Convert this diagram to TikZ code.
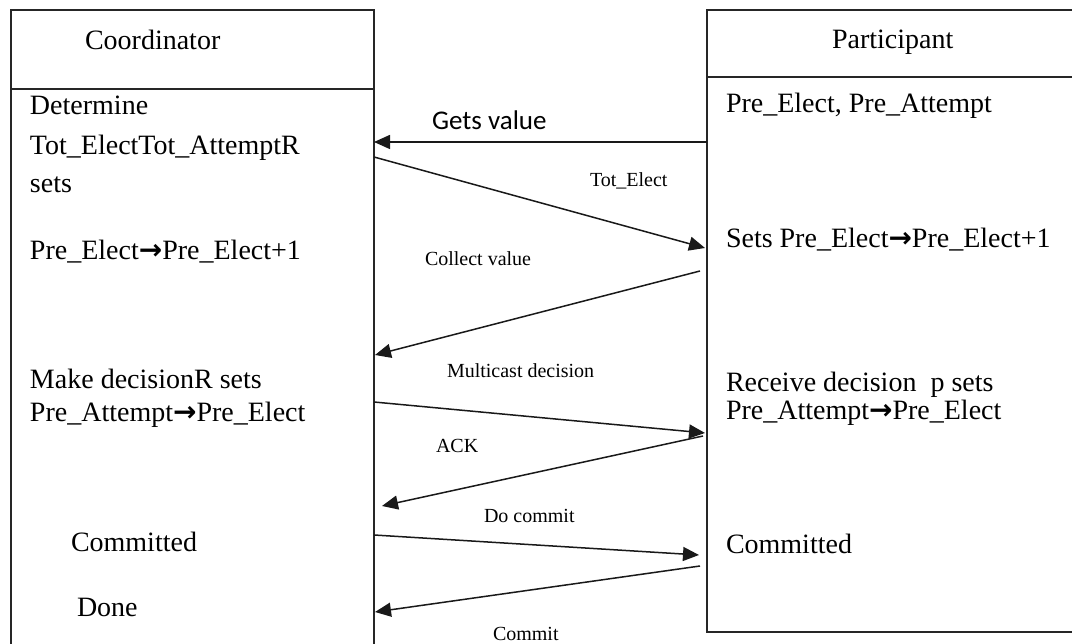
\documentclass[tikz,border=0pt]{standalone}
\usepackage{fontspec}
\setmainfont{Liberation Serif}
\newfontfamily\labelsans{Carlito}
\newfontfamily\arrowglyph{DejaVu Sans}
\usetikzlibrary{arrows.meta}
\newcommand{\rarr}{{\arrowglyph\bfseries →}}
\begin{document}
\begin{tikzpicture}[x=1pt,y=-1pt,
  every node/.style={inner sep=0pt,outer sep=0pt},
  lifebox/.style={line width=1.5pt,draw=black!85},
  msg/.style={line width=1.5pt,draw=black!90,-{Triangle[length=16pt,width=14pt]}},
  lifetext/.style={anchor=base west,font=\fontsize{28}{34}\selectfont},
  msglabel/.style={anchor=base west,font=\fontsize{20}{24}\selectfont},
  sanslabel/.style={anchor=base west,font=\labelsans\fontsize{27}{32}\selectfont}]
\useasboundingbox (0,0) rectangle (1072,644);
\fill[white] (0,0) rectangle (1072,644);

% coordinator lifeline box (open at the bottom)
\draw[lifebox] (11,644) -- (11,10) -- (374,10) -- (374,644);
\draw[lifebox] (11,89) -- (374,89);
% participant lifeline box (runs past the right edge)
\draw[lifebox] (1075,10) -- (707,10) -- (707,632) -- (1075,632);
\draw[lifebox] (707,77) -- (1075,77);

% headings
\node[lifetext] (coordT) at (85,50) {Coordinator};
\node[lifetext] (partT) at (832,49) {Participant};

% coordinator steps
\node[lifetext] (cDet) at (30,115) {Determine};
\node[lifetext] (cTot) at (30,155) {Tot\_ElectTot\_AttemptR};
\node[lifetext] (cSets) at (30,193) {sets};
\node[lifetext] (cInc) at (30,260) {Pre\_Elect\rarr Pre\_Elect+1};
\node[lifetext] (cDec) at (30,389) {Make decisionR sets};
\node[lifetext] (cAtt) at (30,422) {Pre\_Attempt\rarr Pre\_Elect};
\node[lifetext] (cCom) at (71,551) {Committed};
\node[lifetext] (cDone) at (77,616) {Done};

% participant steps
\node[lifetext] (pVal) at (726,113) {Pre\_Elect, Pre\_Attempt};
\node[lifetext] (pInc) at (726,248) {Sets Pre\_Elect\rarr Pre\_Elect+1};
\node[lifetext] (pDec) at (726,392) {Receive decision\ \ p sets};
\node[lifetext] (pAtt) at (726,420) {Pre\_Attempt\rarr Pre\_Elect};
\node[lifetext] (pCom) at (726,553) {Committed};

% message end points on the two lifelines
\coordinate (c1) at (374,142);  \coordinate (p1) at (707,142);
\coordinate (c2) at (374,157);  \coordinate (p2) at (705,248);
\coordinate (c3) at (375,355);  \coordinate (p3) at (700,271);
\coordinate (c4) at (374,402);  \coordinate (p4) at (705,433);
\coordinate (c5) at (382,506);  \coordinate (p5) at (703,436);
\coordinate (c6) at (374,535);  \coordinate (p6) at (699,555);
\coordinate (c7) at (375,612);  \coordinate (p7) at (700,566);

% messages
\draw[msg] (p1) -- (c1);
\draw[msg] (c2) -- (p2);
\draw[msg] (p3) -- (c3);
\draw[msg] (c4) -- (p4);
\draw[msg] (p5) -- (c5);
\draw[msg] (c6) -- (p6);
\draw[msg] (p7) -- (c7);

% message labels
\node[sanslabel] (lGets) at (432,130) {Gets value};
\node[msglabel] (lTot) at (590,187) {Tot\_Elect};
\node[msglabel] (lCol) at (425,266) {Collect value};
\node[msglabel] (lMul) at (447,378) {Multicast decision};
\node[msglabel] (lAck) at (436,453) {ACK};
\node[msglabel] (lDo) at (484,522) {Do commit};
\node[msglabel] (lCommit) at (493,640) {Commit};
\end{tikzpicture}
\end{document}
